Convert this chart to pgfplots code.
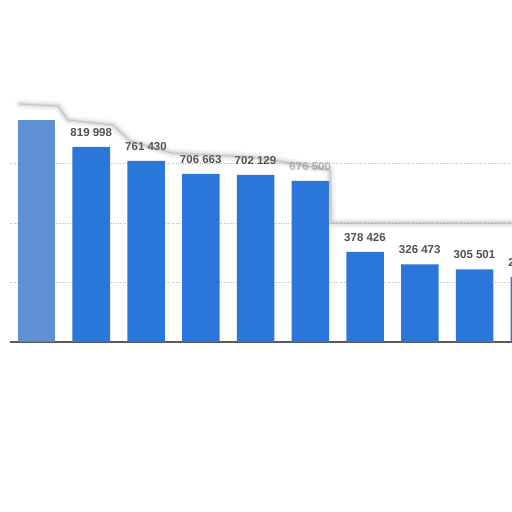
\documentclass[border=0pt]{standalone}
\usepackage{pgfplots}
\pgfplotsset{compat=1.18}
\usepackage{fontspec}
\setmainfont{Liberation Sans}

\definecolor{barblue}{HTML}{2A76DA}
\definecolor{fadeblue}{HTML}{4F84CC}
\definecolor{lblgray}{HTML}{505050}
\definecolor{gridgray}{HTML}{B8B8B8}
\definecolor{axisgray}{HTML}{5A5A5A}

\begin{document}
\begin{tikzpicture}
% page = 512 x 512, 1pt = 1 px of the reference
\path[use as bounding box] (-10pt,-170pt) rectangle (502pt,342pt);
\begin{axis}[
    at={(0pt,0pt)}, anchor=south west,
    scale only axis,
    width=502pt, height=238pt,
    xmin=-0.484, xmax=8.685,
    ymin=0, ymax=1000000,
    ybar, bar width=37.5pt, bar shift=0pt,
    axis x line*=bottom, axis y line*=left,
    x axis line style={-, draw=axisgray, line width=1.3pt},
    y axis line style={draw=none},
    xtick=\empty,
    ytick={250000,500000,750000}, yticklabels={},
    scaled y ticks=false,
    major tick length=0pt,
    ymajorgrids, grid style={dotted, gridgray, line width=0.8pt},
    clip=false,
    point meta=explicit symbolic,
    nodes near coords,
    every node near coord/.append style={font=\fontsize{11.5}{13}\selectfont\bfseries,
        text=lblgray, anchor=south, inner sep=0pt, yshift=10pt},
]
% first bar is blurred in the reference, its label unreadable
\addplot[draw=none, fill=fadeblue, fill opacity=0.9] coordinates {(0,932800)[{}]};
\addplot[draw=none, fill=barblue] coordinates {
    (1,819998)[{819 998}]
    (2,761430)[{761 430}]
    (3,706663)[{706 663}]
    (4,702129)[{702 129}]
    (5,676500)[{\color{lblgray!40}676 500}]
    (6,378426)[{378 426}]
    (7,326473)[{326 473}]
    (8,305501)[{305 501}]
    (9,273000)[{273 000}]
};
\end{axis}
% soft grey smear along the top edge of the picture
\begin{scope}[x=1pt,y=-1pt,shift={(-10pt,342pt)}]
\foreach \w/\o in {10/0.07, 6/0.10, 3/0.15, 1.2/0.2}{
\draw[black!50, opacity=\o, line width=\w pt, line join=round, line cap=round]
    (20,104) -- (58,106) -- (68,120) -- (113,125) -- (130,141) -- (172,153)
    -- (250,157) -- (285,162) -- (330,170) -- (331,223) -- (520,223);
}
\end{scope}
\end{tikzpicture}
\end{document}
